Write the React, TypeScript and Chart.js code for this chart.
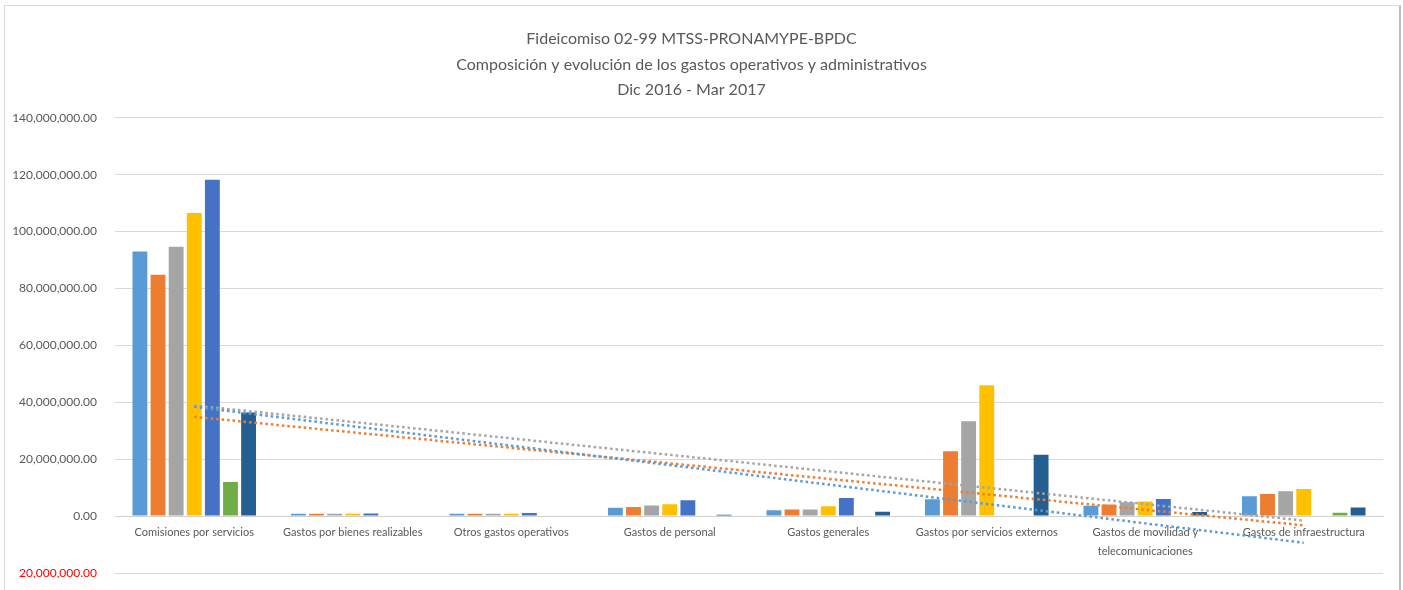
import React, { useEffect, useRef } from "react";
import { Chart, registerables } from "chart.js";

Chart.register(...registerables);

const titleLines = [
  "Fideicomiso 02-99 MTSS-PRONAMYPE-BPDC",
  "Composición y evolución de los gastos operativos y administrativos",
  "Dic 2016 - Mar 2017",
];

const categories: (string | string[])[] = [
  "Comisiones por servicios",
  "Gastos por bienes realizables",
  "Otros gastos operativos",
  "Gastos de personal",
  "Gastos generales",
  "Gastos por servicios externos",
  ["Gastos de movilidad y", "telecomunicaciones"],
  "Gastos de infraestructura",
];

const seriesNames = ["Serie 1", "Serie 2", "Serie 3", "Serie 4", "Serie 5", "Serie 6", "Serie 7"];

const serie1 = [93.0e6, 0.8e6, 0.8e6, 2.9e6, 2.1e6, 5.9e6, 3.6e6, 7.0e6];
const serie2 = [84.8e6, 0.8e6, 0.8e6, 3.2e6, 2.3e6, 22.8e6, 4.1e6, 7.8e6];
const serie3 = [94.7e6, 0.8e6, 0.8e6, 3.7e6, 2.3e6, 33.3e6, 4.9e6, 8.7e6];
const serie4 = [106.5e6, 0.8e6, 0.8e6, 4.2e6, 3.5e6, 46.0e6, 5.1e6, 9.5e6];
const serie5 = [118.2e6, 0.9e6, 1.1e6, 5.6e6, 6.4e6, null, 6.0e6, null];
const serie6 = [12.0e6, null, null, null, null, null, null, 1.2e6];
const serie7 = [36.4e6, null, null, 0.5e6, 1.5e6, 21.6e6, 1.4e6, 3.0e6];

const yMin = -20e6;
const yMax = 140e6;
const yStep = 20e6;

const colors = ["#5B9BD5", "#ED7D31", "#A5A5A5", "#FFC000", "#4472C4", "#70AD47", "#255E91"];

// linear trendline (least squares) over category index 1..n
function trend(values: (number | null)[]): number[] {
  const pts = values
    .map((v, i) => (v == null ? null : [i + 1, v]))
    .filter((p): p is number[] => p !== null);
  const n = pts.length;
  const mx = pts.reduce((s, p) => s + p[0], 0) / n;
  const my = pts.reduce((s, p) => s + p[1], 0) / n;
  let sxy = 0;
  let sxx = 0;
  pts.forEach((p) => {
    sxy += (p[0] - mx) * (p[1] - my);
    sxx += (p[0] - mx) * (p[0] - mx);
  });
  const slope = sxy / sxx;
  const icpt = my - slope * mx;
  return values.map((_, i) => icpt + slope * (i + 1));
}

const FONT = "Lato";

export default function App() {
  const ref = useRef<HTMLCanvasElement | null>(null);

  useEffect(() => {
    if (!ref.current) return;
    const all = [serie1, serie2, serie3, serie4, serie5, serie6, serie7];
    const barSets: any[] = all.map((d, i) => ({
      type: "bar",
      label: seriesNames[i],
      data: d,
      backgroundColor: colors[i],
      borderWidth: 0,
      categoryPercentage: 0.8,
      barPercentage: 0.82,
      order: 1,
    }));
    const trendSets: any[] = [serie1, serie2, serie3].map((d, i) => ({
      type: "line",
      label: "Lineal (" + seriesNames[i] + ")",
      data: trend(d),
      borderColor: colors[i],
      borderWidth: 2.5,
      borderDash: [2.5, 3],
      pointRadius: 0,
      fill: false,
      order: 0,
    }));

    const chart = new Chart(ref.current, {
      type: "bar",
      data: { labels: categories as any, datasets: [...trendSets, ...barSets] },
      options: {
        animation: false,
        responsive: false,
        layout: { padding: { left: 0, right: 20, top: 0, bottom: 17 } },
        plugins: {
          legend: { display: false },
          tooltip: { enabled: false },
          title: {
            display: true,
            text: titleLines,
            color: "#595959",
            font: { family: FONT, size: 16, weight: "normal", lineHeight: 1.6 },
            padding: { top: 26, bottom: 15 },
          },
        },
        scales: {
          x: {
            position: { y: 0 } as any,
            grid: { display: false, drawTicks: false },
            border: { display: true, color: "#d0d0d0", width: 1 },
            ticks: {
              color: "#595959",
              font: { family: FONT, size: 11, lineHeight: 1.7 },
              padding: 7,
              maxRotation: 0,
              autoSkip: false,
            },
          },
          y: {
            min: yMin,
            max: yMax,
            grid: { color: "#d9d9d9", drawTicks: false },
            border: { display: false },
            afterFit: (scale: any) => {
              scale.width = 115;
              scale.paddingTop = 8;
              scale.paddingBottom = 8;
            },
            ticks: {
              stepSize: yStep,
              padding: 18,
              color: (ctx: any) => (ctx.tick && ctx.tick.value < 0 ? "#FF0000" : "#595959"),
              font: { family: FONT, size: 12 },
              callback: (v: any) =>
                Math.abs(Number(v)).toLocaleString("en-US", {
                  minimumFractionDigits: 2,
                  maximumFractionDigits: 2,
                }),
            },
          },
        },
      },
    });
    return () => chart.destroy();
  }, []);

  return (
    <div
      style={{
        position: "fixed",
        left: 0,
        top: 0,
        width: 1403,
        height: 590,
        background: "#ffffff",
        overflow: "hidden",
      }}
    >
      <div
        style={{
          position: "absolute",
          left: 4,
          top: 5,
          width: 1394,
          height: 600,
          border: "1px solid #d9d9d9",
          borderRightColor: "#bfbfbf",
          borderRightWidth: 2,
        }}
      />
      <canvas
        ref={ref}
        width={1403}
        height={590}
        style={{ position: "absolute", left: 0, top: 0, display: "block" }}
      />
    </div>
  );
}
